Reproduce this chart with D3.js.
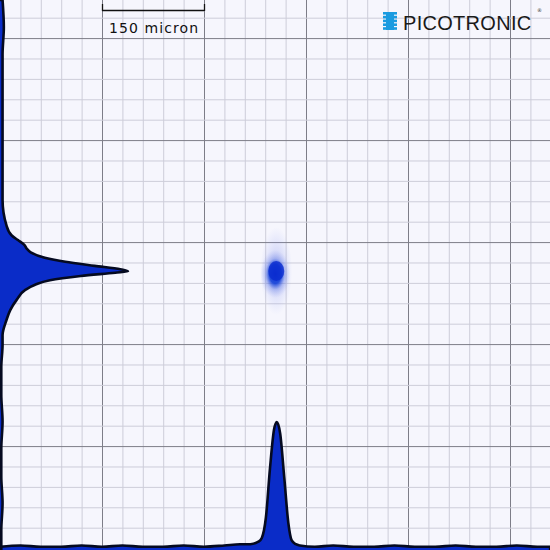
<!DOCTYPE html>
<html><head><meta charset="utf-8">
<script src="https://cdn.jsdelivr.net/npm/d3@7"></script>
<style>body{margin:0}svg{display:block}</style></head>
<body><svg id="c" width="550" height="550"></svg>
<script>
const W = 550, H = 550;
// micron units; 150 micron per major grid cell
const majorStep = 150, minorStep = 30, gridOffsetY = 56;
const scaleBarMicron = 150;
const spotCenter = [407, 397];           // micron (x, y)
// horizontal profile (bottom): position micron, intensity %
const hPos = [0, 30, 60, 90, 120, 150, 180, 210, 240, 270, 300, 330, 353, 368, 380, 385, 391, 397, 403, 407, 412, 418, 424, 429, 435, 441, 463, 490, 520, 550, 580, 610, 640, 670, 700, 730, 760, 790, 809];
const hVal = [1, 2, 1, 1, 2, 1, 2, 1, 1, 2, 1, 2, 3, 3, 5, 8, 24, 63, 94, 100, 91, 56, 20, 6, 3, 2, 1, 2, 1, 1, 2, 1, 1, 2, 1, 1, 2, 1, 1];
// vertical profile (left): position micron, intensity %
const vPos = [0, 40, 80, 120, 160, 200, 240, 294, 331, 346, 353, 360, 366, 371, 379, 385, 391, 396, 399, 401, 406, 412, 419, 426, 441, 456, 471, 493, 507, 540, 580, 620, 660, 700, 740, 780, 809];
const vVal = [2, 3, 2, 2, 2, 2, 2, 2, 5, 9, 14, 19, 21, 24, 35, 51, 74, 94, 100, 90, 63, 39, 27, 20, 13, 8, 5, 2, 2, 1, 1, 2, 1, 1, 2, 1, 1];

const x = d3.scaleLinear().domain([0, 150]).range([0, 102]);
const y = d3.scaleLinear().domain([0, 150]).range([0, 102]);
const hScale = d3.scaleLinear().domain([0, 100]).range([548, 422]);
const vScale = d3.scaleLinear().domain([0, 100]).range([0, 128]);

const svg = d3.select("#c");
svg.append("rect").attr("width", W).attr("height", H).attr("fill", "#f6f6fd");

const maxM = 850;
const g = svg.append("g");
const xs = d3.range(0, maxM, minorStep), ys = d3.range(gridOffsetY % minorStep, maxM, minorStep);
g.selectAll(".vx").data(xs).join("line")
  .attr("x1", d => x(d) + 0.5).attr("x2", d => x(d) + 0.5).attr("y1", 0).attr("y2", H)
  .attr("stroke", d => d % majorStep === 0 ? "#7d7d88" : "#cdcdd9").attr("stroke-width", 1);
g.selectAll(".hy").data(ys).join("line")
  .attr("y1", d => y(d) + 0.5).attr("y2", d => y(d) + 0.5).attr("x1", 0).attr("x2", W)
  .attr("stroke", d => (d - gridOffsetY) % majorStep === 0 ? "#7d7d88" : "#cdcdd9").attr("stroke-width", 1);

// spot
const defs = svg.append("defs");
const rg = defs.append("radialGradient").attr("id", "spot");
rg.append("stop").attr("offset", "0%").attr("stop-color", "#0a2fd0").attr("stop-opacity", 1);
rg.append("stop").attr("offset", "40%").attr("stop-color", "#1240d8").attr("stop-opacity", 0.9);
rg.append("stop").attr("offset", "65%").attr("stop-color", "#4060e0").attr("stop-opacity", 0.3);
rg.append("stop").attr("offset", "100%").attr("stop-color", "#8090f0").attr("stop-opacity", 0);
const halo = defs.append("radialGradient").attr("id", "halo");
halo.append("stop").attr("offset", "0%").attr("stop-color", "#6070e0").attr("stop-opacity", 0.4);
halo.append("stop").attr("offset", "100%").attr("stop-color", "#8090f0").attr("stop-opacity", 0);
const cx = x(spotCenter[0]) - 0.5, cy = y(spotCenter[1]) + 1;
svg.append("ellipse").attr("cx", cx).attr("cy", cy).attr("rx", 16).attr("ry", 44).attr("fill", "url(#halo)");
svg.append("ellipse").attr("cx", cx - 1).attr("cy", cy + 3).attr("rx", 15).attr("ry", 24).attr("fill", "url(#spot)");
svg.append("ellipse").attr("cx", cx).attr("cy", cy).attr("rx", 8).attr("ry", 10).attr("fill", "#0a2ccf").attr("opacity", 0.8);

// bottom profile
const hArea = d3.area().x((d, i) => x(hPos[i])).y0(H + 2).y1(d => hScale(d)).curve(d3.curveMonotoneX);
svg.append("path").datum(hVal).attr("d", hArea).attr("fill", "#0a2cc8").attr("stroke", "#050a20").attr("stroke-width", 2.6);
// left profile
const vArea = d3.area().y((d, i) => y(vPos[i])).x0(-2).x1(d => vScale(d)).curve(d3.curveMonotoneY);
svg.append("path").datum(vVal).attr("d", vArea).attr("fill", "#0a2cc8").attr("stroke", "#050a20").attr("stroke-width", 2.6);

// scale bar
const sb = svg.append("g").attr("stroke", "#111").attr("stroke-width", 1.3);
sb.append("line").attr("x1", x(150)).attr("x2", x(150 + scaleBarMicron)).attr("y1", 10.5).attr("y2", 10.5);
sb.append("line").attr("x1", x(150) + 0.5).attr("x2", x(150) + 0.5).attr("y1", 4).attr("y2", 11);
sb.append("line").attr("x1", x(300) + 0.5).attr("x2", x(300) + 0.5).attr("y1", 4).attr("y2", 11);
svg.append("text").attr("x", 109).attr("y", 33).attr("font-family", "DejaVu Sans, sans-serif")
  .attr("font-size", 14).attr("textLength", 89).attr("lengthAdjust", "spacing")
  .attr("fill", "#111").text(scaleBarMicron + " micron");

// logo
const logo = svg.append("g").attr("fill", "#1a9be0");
d3.range(5).forEach(i => logo.append("rect").attr("x", 383).attr("y", 12 + i * 3.8).attr("width", 14).attr("height", 2.6));
logo.append("rect").attr("x", 386).attr("y", 12).attr("width", 8).attr("height", 18);
svg.append("text").attr("x", 403).attr("y", 30).attr("font-family", "Liberation Sans, sans-serif")
  .attr("font-size", 20).attr("letter-spacing", 0.3)
  .attr("fill", "#1a1a1a").text("PICOTRONIC");
svg.append("text").attr("x", 537).attr("y", 12).attr("font-size", 5).attr("font-family", "DejaVu Sans").attr("fill", "#333").text("®");
</script></body></html>
